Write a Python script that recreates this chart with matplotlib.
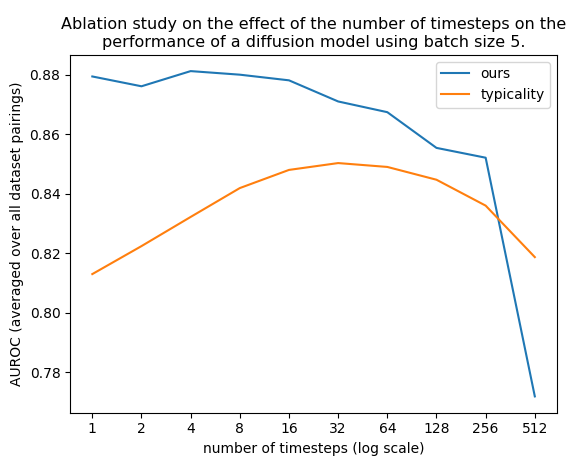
import matplotlib
matplotlib.use("Agg")
import matplotlib.pyplot as plt
from matplotlib.ticker import FixedLocator, FixedFormatter, NullLocator

timesteps = [1, 2, 4, 8, 16, 32, 64, 128, 256, 512]
ours = [0.8794, 0.8761, 0.8812, 0.8800, 0.8781, 0.8710, 0.8674, 0.8554, 0.8521, 0.7719]
typicality = [0.8130, 0.8224, 0.8322, 0.8419, 0.8480, 0.8503, 0.8490, 0.8447, 0.8360, 0.8187]

fig, ax = plt.subplots(figsize=(5.66, 4.57), dpi=100)
fig.subplots_adjust(left=0.124, right=0.984, top=0.88, bottom=0.097)

ax.plot(timesteps, ours, label="ours")
ax.plot(timesteps, typicality, label="typicality")

ax.set_xscale("log", base=2)
ax.xaxis.set_major_locator(FixedLocator(timesteps))
ax.xaxis.set_major_formatter(FixedFormatter([str(t) for t in timesteps]))
ax.xaxis.set_minor_locator(NullLocator())

ax.set_xlabel("number of timesteps (log scale)")
ax.set_ylabel("AUROC (averaged over all dataset pairings)")
ax.set_title("Ablation study on the effect of the number of timesteps on the\n"
             "performance of a diffusion model using batch size 5.", fontsize=11.5)
ax.legend(loc="upper right")

fig.savefig("out.png", dpi=100)
